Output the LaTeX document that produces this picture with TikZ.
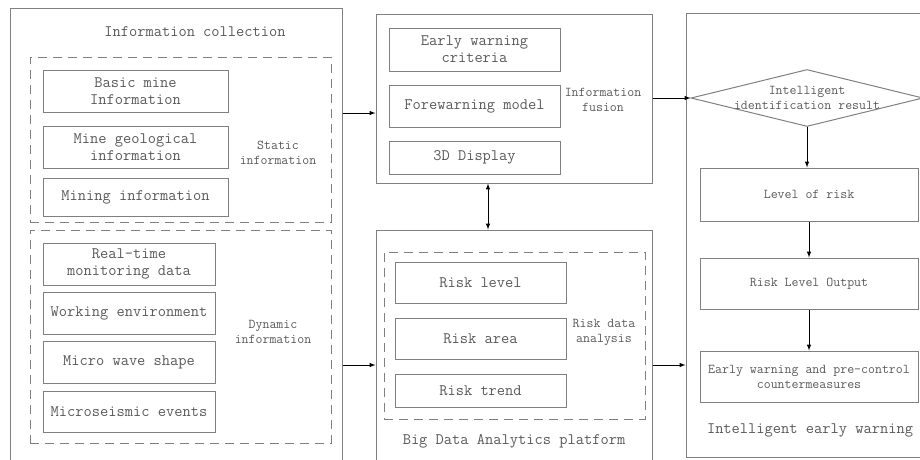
\documentclass[tikz,border=0pt]{standalone}
\usetikzlibrary{shapes.geometric}
\definecolor{linegray}{gray}{0.5}
\definecolor{textgray}{gray}{0.35}
\newcommand\bigtxt{\ttfamily\fontsize{16}{17}\selectfont}
\newcommand\smalltxt{\ttfamily\fontsize{13.5}{15}\selectfont}
\tikzset{
every picture/.style={
line width=1pt
},
panel/.style={draw=linegray},
group/.style={draw=linegray, dash pattern=on 9pt off 6pt},
box/.style={draw=linegray, align=center, inner sep=0pt, text=textgray, font=\bigtxt},
lbl/.style={align=center, inner sep=0pt, text=textgray, font=\smalltxt}
}
\begin{document}
\begin{tikzpicture}[x=1pt, y=-1pt, >=latex]

  \clip (0,0) rectangle (920,459);

  \node (collect) [panel, minimum width=332pt, minimum height=470pt] at (176,243) {};
  \node (collectlbl) [lbl, font=\bigtxt] at (195,32) {Information collection};

  \node (static) [group, minimum width=301pt, minimum height=165pt] at (180.5,139.5) {};
  \node (basic) [box, minimum width=185pt, minimum height=42pt] at (135.5,91) {Basic mine\\Information};
  \node (geo) [box, minimum width=185pt, minimum height=42pt] at (135.5,147) {Mine geological\\information};
  \node (mining) [box, minimum width=185pt, minimum height=38pt] at (135.5,197) {Mining information};
  \node (staticlbl) [lbl] at (278,153) {Static\\information};

  \node (dynamic) [group, minimum width=301pt, minimum height=213pt] at (180.5,336.5) {};
  \node (realtime) [box, minimum width=172pt, minimum height=42pt] at (129,264) {Real-time\\monitoring data};
  \node (working) [box, minimum width=172pt, minimum height=42pt] at (129,313) {Working environment};
  \node (wave) [box, minimum width=172pt, minimum height=42pt] at (129,362) {Micro wave shape};
  \node (seismic) [box, minimum width=172pt, minimum height=41pt] at (129,411.5) {Microseismic events};
  \node (dynamiclbl) [lbl] at (273,332) {Dynamic\\information};

  \node (fusion) [panel, minimum width=276pt, minimum height=169pt] at (514,98.5) {};
  \node (criteria) [box, minimum width=171pt, minimum height=43pt] at (474.5,49.5) {Early warning\\criteria};
  \node (model) [box, minimum width=171pt, minimum height=42pt] at (474.5,106) {Forewarning model};
  \node (display) [box, minimum width=171pt, minimum height=33pt] at (474.5,157.5) {3D Display};
  \node (fusionlbl) [lbl] at (603,100) {Information\\fusion};

  \node (platform) [panel, minimum width=276pt, minimum height=250pt] at (514,355) {};
  \node (analysis) [group, minimum width=261pt, minimum height=167pt] at (514.5,335.5) {};
  \node (rlevel) [box, minimum width=171pt, minimum height=41pt] at (480.5,282.5) {Risk level};
  \node (rarea) [box, minimum width=171pt, minimum height=41pt] at (480.5,338.5) {Risk area};
  \node (rtrend) [box, minimum width=171pt, minimum height=33pt] at (480.5,390.5) {Risk trend};
  \node (analysislbl) [lbl] at (604,332) {Risk data\\analysis};
  \node (platformlbl) [lbl, font=\bigtxt] at (514,441) {Big Data Analytics platform};

  \node (warning) [panel, minimum width=260pt, minimum height=444pt] at (816,235) {};
  \node (result) [diamond, draw=linegray, minimum width=232pt, minimum height=57pt, inner sep=0pt] at (807,98) {};
  \node (resultlbl) [lbl] at (result) {Intelligent\\identification result};
  \node (risklvl) [box, font=\smalltxt, minimum width=218pt, minimum height=53pt] at (809,194.5) {Level of risk};
  \node (output) [box, font=\smalltxt, minimum width=218pt, minimum height=51pt] at (809,283.5) {Risk Level Output};
  \node (measures) [box, font=\smalltxt, minimum width=218pt, minimum height=51pt] at (809,376.5) {Early warning and pre-control\\countermeasures};
  \node (warninglbl) [lbl, font=\bigtxt] at (810,430) {Intelligent early warning};

  \draw [->] ([yshift=130pt]collect.east) -- ([yshift=-14.5pt]fusion.west);
  \draw [->] ([yshift=-122pt]collect.east) -- ([yshift=-10pt]platform.west);
  \draw [<->] ([xshift=-26pt]fusion.south) -- ([xshift=-26pt]platform.north);
  \draw [->] (fusion.east |- result) -- (result.west);
  \draw [->] ([yshift=-10pt]platform.east) -- ([yshift=-130pt]warning.west);

  \draw [->] (result.south) -- (result.south |- risklvl.north);
  \draw [->] (risklvl) -- (output);
  \draw [->] (output) -- (measures);

\end{tikzpicture}
\end{document}
